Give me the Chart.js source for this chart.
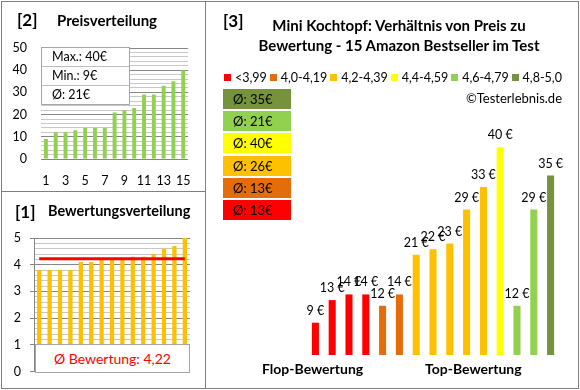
<!DOCTYPE html>
<html>
<head>
<meta charset="utf-8">
<script src="https://cdn.jsdelivr.net/npm/chart.js@4.4.1/dist/chart.umd.min.js"></script>
<style>
  body { margin: 0; background: #fff; font-family: Lato, "Open Sans", sans-serif; color: #000; }
  #wrap { position: relative; width: 580px; height: 390px; overflow: hidden; }
  canvas, .abs { position: absolute; }
  .frame { position: absolute; box-sizing: border-box; border: 1px solid #7f7f7f; }
  .line { position: absolute; background: #7f7f7f; }
  .t { position: absolute; white-space: nowrap; line-height: 20px; }
  .b { font-weight: bold; }
  #stats { left: 41px; top: 47px; width: 89px; border: 1px solid #a6a6a6; background: #fff; box-sizing: border-box; }
  #stats div { height: 18px; line-height: 18px; padding-left: 10px; font-size: 12.5px; border-top: 1px solid #bfbfbf; }
  #stats div:first-child { border-top: none; }
  #avgBox { left: 35px; top: 344px; width: 155px; height: 29px; box-sizing: border-box; border: 1px solid #a6a6a6; background: #fff;
            color: #ff0000; font-size: 14px; line-height: 27px; text-align: center; }
  #legend { left: 224px; top: 70px; width: 338px; height: 14px; display: flex; justify-content: space-between; align-items: center; font-size: 12.5px; }
  #legend span.sq { display: inline-block; width: 7px; height: 7px; margin-right: 4px; vertical-align: middle; position: relative; top: -1px; }
  .band { position: absolute; left: 223px; width: 68px; height: 20px; line-height: 20px; padding-left: 10px; box-sizing: border-box; font-size: 13px; }
</style>
</head>
<body>
<div id="wrap">
  <canvas id="priceChart" width="205" height="191" style="left:0;top:0"></canvas>
  <canvas id="ratingChart" width="205" height="197" style="left:0;top:191px"></canvas>
  <canvas id="mainChart" width="373" height="388" style="left:205px;top:0"></canvas>

  <div class="frame" style="left:1px;top:1px;width:578px;height:388px"></div>
  <div class="line" style="left:205px;top:1px;width:1px;height:388px"></div>
  <div class="line" style="left:1px;top:191px;width:204px;height:1px"></div>

  <div class="t b" style="left:17px;top:10px;font-size:17px">[2]</div>
  <div class="t b" style="left:57px;top:10px;font-size:15px">Preisverteilung</div>
  <div id="stats" class="abs"></div>

  <div class="t b" style="left:15px;top:202px;font-size:17px">[1]</div>
  <div class="t b" style="left:48px;top:201px;font-size:14.5px">Bewertungsverteilung</div>
  <div id="avgBox" class="abs"></div>

  <div class="t b" style="left:223px;top:11px;font-size:17px">[3]</div>
  <div class="t b" style="left:230px;top:15px;width:338px;text-align:center;font-size:15px">Mini Kochtopf: Verhältnis von Preis zu<br>Bewertung - 15 Amazon Bestseller im Test</div>
  <div id="legend" class="abs"></div>
  <div class="t" style="left:400px;top:88px;width:162px;text-align:right;font-size:13px">©Testerlebnis.de</div>
  <div id="bands"></div>
  <div class="t b" style="left:262px;top:359px;font-size:14px">Flop-Bewertung</div>
  <div class="t b" style="left:425px;top:359px;font-size:14px">Top-Bewertung</div>
</div>

<script>
// product ranks 1..15 (sorted by rating)
const ranks = ['1', '2', '3', '4', '5', '6', '7', '8', '9', '10', '11', '12', '13', '14', '15'];
// prices sorted ascending (panel 2)
const pricesSorted = [9, 12, 12, 13, 14, 14, 14, 21, 22, 23, 29, 29, 33, 35, 40];
// ratings sorted ascending (panel 1 and 3)
const ratings = [3.8, 3.8, 3.8, 3.8, 4.1, 4.1, 4.2, 4.2, 4.2, 4.3, 4.3, 4.4, 4.6, 4.7, 5.0];
// price of each product in rating order (panel 3)
const testPrices = [9, 13, 14, 14, 12, 14, 21, 22, 23, 29, 33, 40, 12, 29, 35];
// rating bands
const bandLabels = ['<3,99', '4,0-4,19', '4,2-4,39', '4,4-4,59', '4,6-4,79', '4,8-5,0'];
const bandLimits = [4.0, 4.2, 4.4, 4.6, 4.8, 5.01];
const bandColors = ['#FF0000', '#E46C0A', '#FFC000', '#FFFF00', '#92D050', '#76923C'];

Chart.defaults.font.family = 'Lato, "Open Sans", sans-serif';
Chart.defaults.color = '#000';
Chart.defaults.animation = false;

const gridMajor = '#868686';
const gridMinor = '#c8c8c8';
const isWhole = (v, step) => Math.abs(v / step - Math.round(v / step)) < 1e-6;
const bandOf = r => bandLimits.findIndex(l => r < l);

// ---- stats box (panel 2)
const avgPrice = pricesSorted.reduce((a, b) => a + b, 0) / pricesSorted.length;
document.getElementById('stats').innerHTML =
  `<div>Max.: ${Math.max(...pricesSorted)}€</div><div>Min.: ${Math.min(...pricesSorted)}€</div><div>Ø: ${Math.round(avgPrice)}€</div>`;

// ---- avg rating box (panel 1)
const avgRating = ratings.reduce((a, b) => a + b, 0) / ratings.length;
document.getElementById('avgBox').textContent = 'Ø Bewertung: ' + avgRating.toFixed(2).replace('.', ',');

// ---- legend + band averages (panel 3)
document.getElementById('legend').innerHTML = bandLabels
  .map((l, i) => `<div><span class="sq" style="background:${bandColors[i]}"></span>${l}</div>`).join('');

let bandHtml = '';
for (let i = bandLabels.length - 1, row = 0; i >= 0; i--, row++) {
  const vals = testPrices.filter((p, k) => bandOf(ratings[k]) === i);
  const avg = vals.reduce((a, b) => a + b, 0) / vals.length;
  bandHtml += `<div class="band" style="top:${89 + row * 22.2}px;background:${bandColors[i]}">Ø: ${Math.round(avg)}€</div>`;
}
document.getElementById('bands').innerHTML = bandHtml;

// ---- [2] Preisverteilung
new Chart(document.getElementById('priceChart'), {
  type: 'bar',
  data: {
    labels: ranks,
    datasets: [{ data: pricesSorted, backgroundColor: '#92D050', barPercentage: 0.4, categoryPercentage: 1 }]
  },
  options: {
    responsive: false,
    layout: { padding: { top: 48, right: 15, left: 0, bottom: 0 } },
    plugins: { legend: { display: false }, tooltip: { enabled: false } },
    scales: {
      x: {
        grid: { display: false, drawTicks: false },
        border: { display: false },
        ticks: { autoSkip: false, maxRotation: 0, padding: 14, font: { size: 12.5 },
                 callback: (v, i) => (i % 2 === 0 ? ranks[i] : '') },
        afterFit: s => { s.height = 32; }
      },
      y: {
        min: 0, max: 50,
        ticks: { stepSize: 2, autoSkip: false, padding: 14, font: { size: 12.5 },
                 callback: v => (isWhole(v, 10) ? v : '') },
        grid: { drawTicks: false, color: c => (isWhole(c.tick.value, 10) ? gridMajor : gridMinor) },
        border: { display: false },
        afterFit: s => { s.width = 41; }
      }
    }
  }
});

// ---- [1] Bewertungsverteilung
new Chart(document.getElementById('ratingChart'), {
  type: 'bar',
  data: {
    labels: ranks,
    datasets: [
      { type: 'line', data: ratings.map(() => avgRating), borderColor: '#FF0000', borderWidth: 3,
        pointRadius: 0, order: 0 },
      { data: ratings, backgroundColor: '#FFC000', barPercentage: 0.41, categoryPercentage: 1, order: 1 }
    ]
  },
  options: {
    responsive: false,
    layout: { padding: { top: 47, right: 15, left: 0, bottom: 15.5 } },
    plugins: { legend: { display: false }, tooltip: { enabled: false } },
    scales: {
      x: { display: false },
      y: {
        min: 0, max: 5,
        ticks: { stepSize: 0.2, autoSkip: false, padding: 9, font: { size: 12.5 },
                 callback: v => (isWhole(v, 1) ? v : '') },
        grid: {
          tickLength: 4,
          color: c => (isWhole(c.tick.value, 1) ? gridMajor : gridMinor),
          tickColor: c => (isWhole(c.tick.value, 1) ? gridMajor : 'rgba(0,0,0,0)')
        },
        border: { display: true, color: gridMajor },
        afterFit: s => { s.width = 34; }
      }
    }
  }
});

// ---- [3] price vs rating
const valueLabels = {
  id: 'valueLabels',
  afterDatasetsDraw(chart) {
    const ctx = chart.ctx;
    const meta = chart.getDatasetMeta(0);
    ctx.save();
    ctx.font = '12.5px Lato, "Open Sans", sans-serif';
    ctx.fillStyle = '#000';
    ctx.textAlign = 'center';
    ctx.textBaseline = 'middle';
    meta.data.forEach((bar, i) => ctx.fillText(testPrices[i] + ' €', bar.x, bar.y - 12));
    ctx.restore();
  }
};

new Chart(document.getElementById('mainChart'), {
  type: 'bar',
  data: {
    labels: ranks,
    datasets: [{
      data: testPrices,
      backgroundColor: ratings.map(r => bandColors[bandOf(r)]),
      barPercentage: 0.42,
      categoryPercentage: 1
    }]
  },
  options: {
    responsive: false,
    layout: { padding: { top: 119, right: 19, left: 102, bottom: 33 } },
    plugins: { legend: { display: false }, tooltip: { enabled: false } },
    scales: {
      x: { display: false },
      y: { display: false, min: 3.3, max: 45 }
    }
  },
  plugins: [valueLabels]
});
</script>
</body>
</html>
